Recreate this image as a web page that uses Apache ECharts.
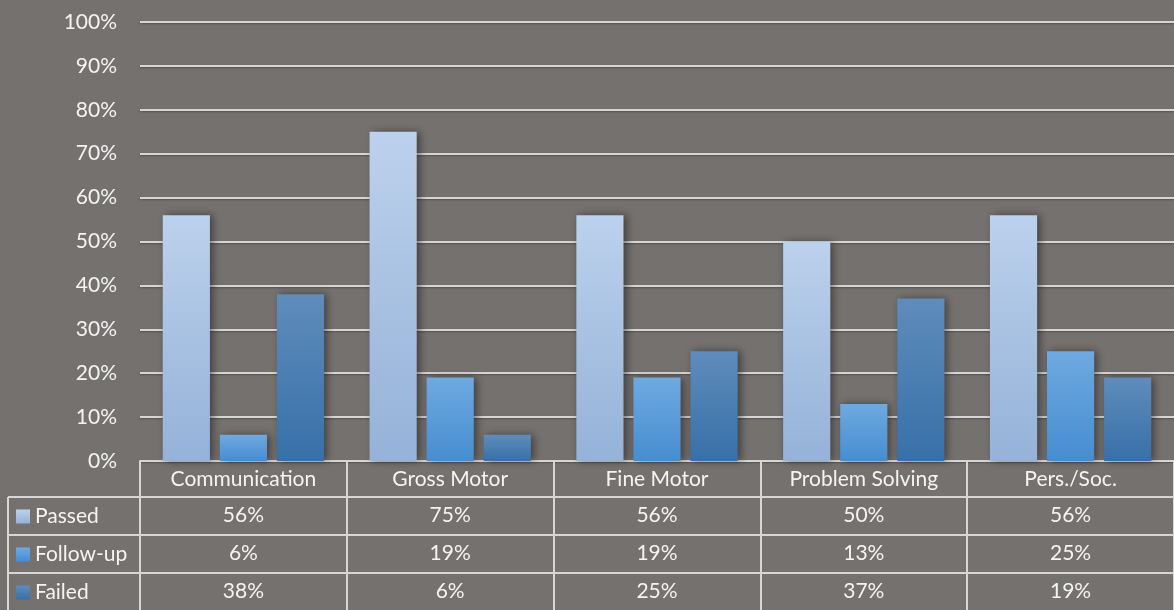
<!DOCTYPE html>
<html>
<head>
<meta charset="utf-8">
<script src="https://cdn.jsdelivr.net/npm/echarts@6/dist/echarts.min.js"></script>
<style>
  html, body { margin: 0; padding: 0; background: #75716f; }
  #main { width: 1174px; height: 610px; }
</style>
</head>
<body>
<div id="main"></div>
<script>
// 数据
const categories = ['Communication', 'Gross Motor', 'Fine Motor', 'Problem Solving', 'Pers./Soc.']
const passed = [56, 75, 56, 50, 56]
const followUp = [6, 19, 19, 13, 25]
const failed = [38, 6, 25, 37, 19]
const seriesNames = ['Passed', 'Follow-up', 'Failed']
const yTicks = [0, 10, 20, 30, 40, 50, 60, 70, 80, 90, 100]

const fontFamily = 'Lato, "Open Sans", sans-serif'
const fontSize = 21
const textColor = '#f4f4f4'
const lineColor = '#d6d6d6'

const grad = (top, bottom) =>
  new echarts.graphic.LinearGradient(0, 0, 0, 1, [
    { offset: 0, color: top },
    { offset: 1, color: bottom },
  ])

const colors = [
  grad('#bcd1ec', '#95b2d8'),
  grad('#6fa9e0', '#468dd0'),
  grad('#5f8cbb', '#3770a8'),
]

const pct = (v) => v + '%'

// 表格的行（每一行是一个偏移的 x 轴）
const rowOffsets = [36, 74, 112]
const rowData = [passed, followUp, failed]

const valueAxes = rowData.map((arr, i) => ({
  type: 'category',
  position: 'bottom',
  offset: rowOffsets[i],
  data: arr.map(pct),
  axisLine: { show: true, lineStyle: { color: lineColor, width: 2 } },
  axisTick: { show: false },
  axisLabel: { color: textColor, fontSize, fontFamily, margin: 8 },
}))

// 每个系列一个图例，放在表格左列
const legendTops = [506, 544, 582]
const legends = seriesNames.map((name, i) => ({
  left: 16,
  top: legendTops[i],
  padding: 0,
  itemWidth: 14,
  itemHeight: 14,
  itemGap: 0,
  icon: 'rect',
  selectedMode: false,
  textStyle: { color: textColor, fontSize, fontFamily },
  data: [name],
}))

const option = {
  backgroundColor: '#75716f',
  animation: false,
  grid: { left: 140, right: 0, top: 22, bottom: 149 },
  legend: legends,
  xAxis: [
    {
      type: 'category',
      position: 'bottom',
      data: categories,
      axisLine: { show: true, lineStyle: { color: lineColor, width: 2 } },
      axisTick: { show: true, length: 149, lineStyle: { color: lineColor, width: 2 } },
      axisLabel: { color: textColor, fontSize, fontFamily, margin: 8 },
    },
    ...valueAxes,
  ],
  yAxis: {
    type: 'value',
    min: 0,
    max: 100,
    interval: 10,
    axisLine: { show: false },
    axisTick: { show: false },
    axisLabel: {
      color: textColor,
      fontSize,
      fontFamily,
      margin: 23,
      formatter: (v) => (yTicks.includes(v) ? v + '%' : ''),
    },
    splitLine: {
      lineStyle: { color: lineColor, width: 2, shadowColor: 'rgba(0,0,0,0.3)', shadowBlur: 2, shadowOffsetY: 1 },
    },
  },
  series: rowData.map((arr, i) => ({
    name: seriesNames[i],
    type: 'bar',
    data: arr,
    barGap: '21%',
    barCategoryGap: '22%',
    itemStyle: {
      color: colors[i],
      shadowColor: 'rgba(0,0,0,0.45)',
      shadowBlur: 8,
      shadowOffsetX: 3,
      shadowOffsetY: 0,
    },
  })),
  // 左侧图例列的边框
  graphic: [
    { type: 'line', shape: { x1: 8, y1: 497, x2: 140, y2: 497 }, style: { stroke: lineColor, lineWidth: 2 } },
    { type: 'line', shape: { x1: 8, y1: 535, x2: 140, y2: 535 }, style: { stroke: lineColor, lineWidth: 2 } },
    { type: 'line', shape: { x1: 8, y1: 573, x2: 140, y2: 573 }, style: { stroke: lineColor, lineWidth: 2 } },
    { type: 'line', shape: { x1: 8, y1: 497, x2: 8, y2: 610 }, style: { stroke: lineColor, lineWidth: 2 } },
  ],
}

const myChart = echarts.init(document.getElementById('main'))
myChart.setOption(option, true)
</script>
</body>
</html>
